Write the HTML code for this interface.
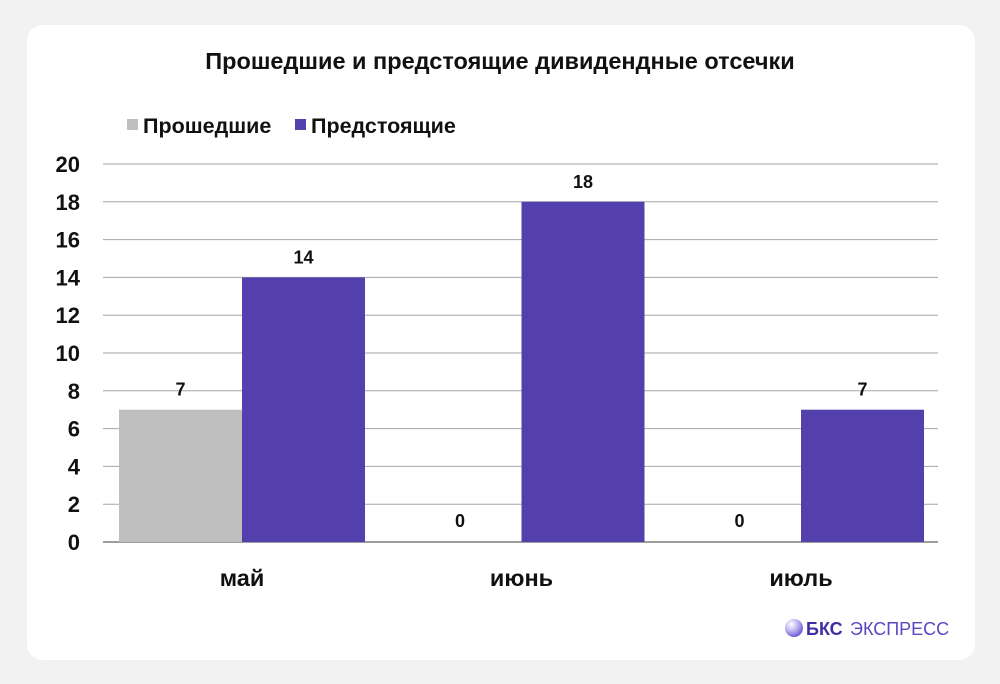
<!DOCTYPE html>
<html><head><meta charset="utf-8"><style>
body{margin:0;width:1000px;height:684px;background:#f2f2f2;font-family:"Liberation Sans","DejaVu Sans",sans-serif;overflow:hidden}
#card{position:absolute;left:27px;top:25px;width:948px;height:635px;background:#fff;border-radius:16px}
svg{position:absolute;left:0;top:0}
</style></head><body>
<div id="card"></div>
<svg id="chart" width="1000" height="684">
<text x="500" y="69" text-anchor="middle" font-size="23.5" font-weight="bold" fill="#111">Прошедшие и предстоящие дивидендные отсечки</text>
<g>
<rect x="127" y="119" width="11" height="11" fill="#bfbfbf"/>
<text x="143" y="133" font-size="21.5" font-weight="bold" fill="#111">Прошедшие</text>
<rect x="295" y="119" width="11" height="11" fill="#5340ad"/>
<text x="311" y="133" font-size="21.5" font-weight="bold" fill="#111">Предстоящие</text>
</g>
<g id="grid"></g><g id="bars"></g><g id="labels"></g>
<g>
<defs><radialGradient id="lg" cx="0.35" cy="0.3" r="0.8"><stop offset="0" stop-color="#fff"/><stop offset="0.5" stop-color="#b9acf0"/><stop offset="1" stop-color="#5a45c8"/></radialGradient></defs>
<circle cx="794" cy="628" r="9" fill="url(#lg)"/>
<text x="806" y="635" font-size="18" font-weight="bold" fill="#3f2fa0">БКС</text>
<text x="850" y="635" font-size="18" fill="#5a48c0">ЭКСПРЕСС</text>
</g>
</svg>
<script>
const categories=["май","июнь","июль"];
const pastValues=[7,0,0];
const upcomingValues=[14,18,7];
const yTicks=[0,2,4,6,8,10,12,14,16,18,20];
const NS="http://www.w3.org/2000/svg";
const X0=97,X1=938,Y0=542,Y1=164,YMAX=20;
const y=v=>Y0-(v/YMAX)*(Y0-Y1);
const gw=279.5;
const bw=123;
const xBar=(i,s)=>X0+22+i*gw+s*bw;
function mk(tag,attrs,parent){const e=document.createElementNS(NS,tag);for(const k in attrs)e.setAttribute(k,attrs[k]);parent.appendChild(e);return e;}
const grid=document.getElementById('grid'),bars=document.getElementById('bars'),labels=document.getElementById('labels');
yTicks.forEach(t=>{
 const l=mk('line',{x1:103,x2:X1,y1:y(t),y2:y(t),stroke:t===0?'#7f7f7f':'#a6a6a6','stroke-width':t===0?1.5:1},grid);
 
 
 const tx=mk('text',{x:80,y:y(t)+8,'text-anchor':'end','font-size':22,'font-weight':'bold','font-family':'"Liberation Sans Narrow","Liberation Sans",sans-serif',fill:'#111'},grid);
 tx.textContent=t;
 
 
});
categories.forEach((c,i)=>{
 [[pastValues,'#bfbfbf','past'],[upcomingValues,'#5340ad','upcoming']].forEach(([arr,col,nm],s)=>{
  const v=arr[i],x=xBar(i,s);
  if(v>0){const r=mk('rect',{x:x,y:y(v),width:bw,height:Y0-y(v),fill:col},bars);
   
   }
  const t=mk('text',{x:x+bw/2,y:v>0?y(v)-14:y(v)-15,'text-anchor':'middle','font-size':18,'font-weight':'bold',fill:'#111'},labels);
  t.textContent=v;
  
  
 });
 const ct=mk('text',{x:X0+22+i*gw+bw,y:586,'text-anchor':'middle','font-size':23.5,'font-weight':'bold',fill:'#111'},labels);
 ct.textContent=c;
 
 
});
</script>
</body></html>
